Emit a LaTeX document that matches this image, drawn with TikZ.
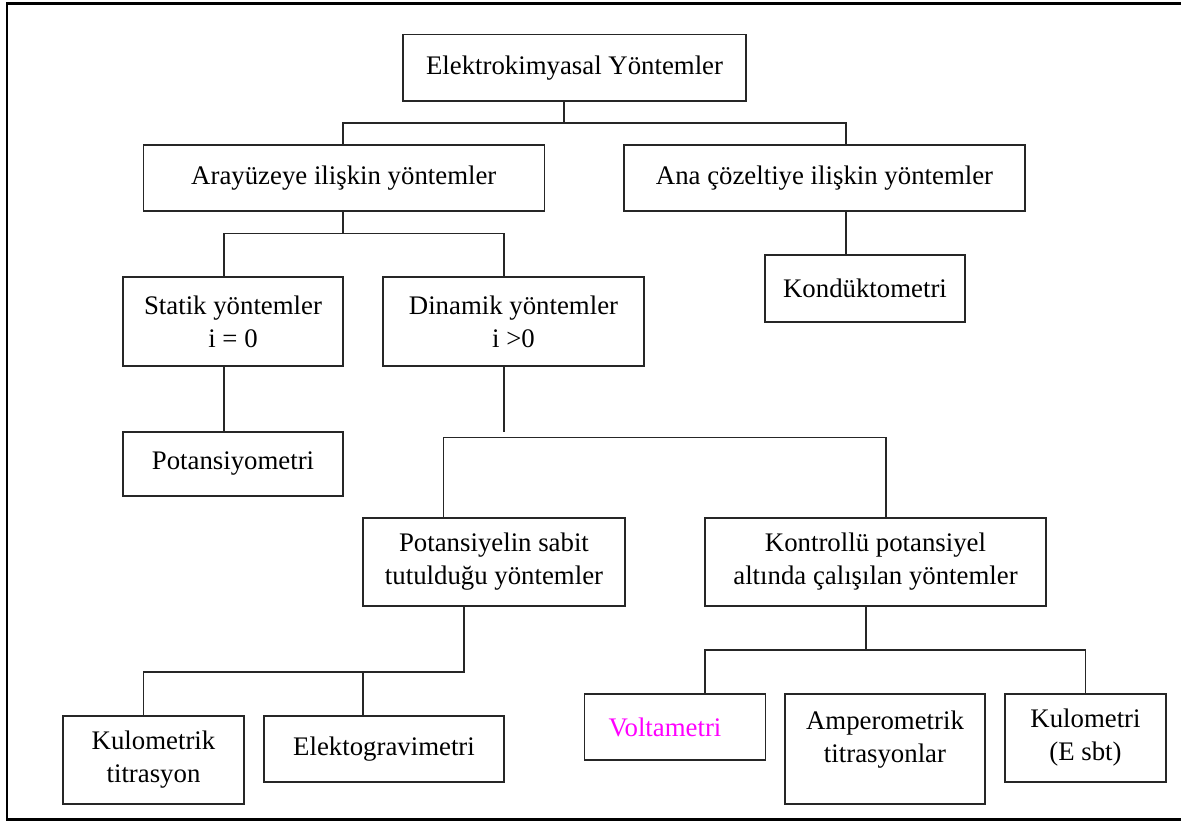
\documentclass[tikz,border=0pt]{standalone}
\usepackage{fontspec}
\setmainfont{Liberation Serif}
\definecolor{voltmag}{RGB}{255,0,255}
\begin{document}
\begin{tikzpicture}[x=1pt,y=-1pt,
  box/.style={draw=black!85, line width=1.5pt, rectangle, inner sep=0pt, align=center, font=\fontsize{26.8}{33}\selectfont},
  txt/.style={inner sep=0pt, align=center, font=\fontsize{26.8}{33}\selectfont},
  link/.style={draw=black!85, line width=1.5pt},
  frame/.style={draw=black, line width=2.8pt}]
\useasboundingbox (0,0) rectangle (1181,821);
\fill[white] (0,0) rectangle (1181,821);
% outer frame (right side lies outside the picture)
\begin{scope}
\clip (0,0) rectangle (1181,821);
\coordinate (fr1) at (1195,3.5);
\coordinate (fr2) at (7,3.5);
\coordinate (fr3) at (7,819.5);
\coordinate (fr4) at (1195,819.5);
\draw[frame] (fr1) -- (fr2) -- (fr3) -- (fr4);
\end{scope}

% boxes: centre, size
\newcommand{\bx}[7][]{\node[box,#1,minimum width=#4pt,minimum height=#5pt] (#2) at (#3) {#6};}
\bx{top}{574.5,68}{343}{66.5}{Elektrokimyasal Yöntemler}{}
\bx{ara}{343.8,178}{401}{66}{Arayüzeye ilişkin yöntemler}{}
\bx{ana}{824.5,178}{401}{66}{Ana çözeltiye ilişkin yöntemler}{}
\bx{kond}{865,288.5}{200}{67}{Kondüktometri}{}
\bx{stat}{233,321.5}{220}{89}{Statik yöntemler\\i = 0}{}
\bx{din}{513.5,321.5}{261}{89}{Dinamik yöntemler\\i >0}{}
\bx{pmet}{233,464}{220}{64}{Potansiyometri}{}
\bx{psab}{494,562}{262}{88}{Potansiyelin sabit\\tutulduğu yöntemler}{}
\bx{kont}{875.5,562}{341}{88}{Kontrollü potansiyel\\altında çalışılan yöntemler}{}
\bx{kmt}{153.5,760}{181}{88}{Kulometrik\\titrasyon}{}
\bx{egr}{384,749}{240}{66}{Elektogravimetri}{}
\bx{volt}{675,727}{181}{66}{}{}
\bx{amp}{885,749}{200}{110}{}{}
\bx{kul}{1085.5,738}{161}{88}{Kulometri\\(E sbt)}{}
\node[txt, text=voltmag] (voltt) at (665,727) {Voltametri};
\node[txt] (ampt) at (885,740) {Amperometrik\\titrasyonlar};

% connectors
\draw[link] (564,101) coordinate (t1) -- (564,123) coordinate (t2);
\draw[link] (ara.north -| 343,0) |- (t2) -| (ana.north -| 846,0);
\draw[link] (ana.south -| 846,0) -- (kond.north -| 846,0);

\draw[link] (ara.south -| 343,0) -- (343,233.3) coordinate (a2);
\draw[link] (stat.north -| 224,0) |- (a2) -| (din.north -| 504,0);
\draw[link] (stat.south -| 224,0) -- (pmet.north -| 224,0);

\coordinate (d1) at (504,431.7);
\draw[link] (din.south -| 504,0) -- (d1);
\coordinate (d2) at (443.6,437.3);
\draw[link] (psab.north -| 443.6,0) -- (d2) -- (886,437.3) -- (kont.north -| 886,0);

\coordinate (p2) at (464,672);
\draw[link] (psab.south -| 464,0) -- (p2) -- (143.5,672) -- (kmt.north -| 143.5,0);
\draw[link] (363,672) -- (egr.north -| 363,0);

\coordinate (k2) at (866,650);
\draw[link] (kont.south -| 866,0) -- (k2);
\draw[link] (volt.north -| 705,0) |- (k2) -| (kul.north -| 1085.6,0);
\end{tikzpicture}
\end{document}
